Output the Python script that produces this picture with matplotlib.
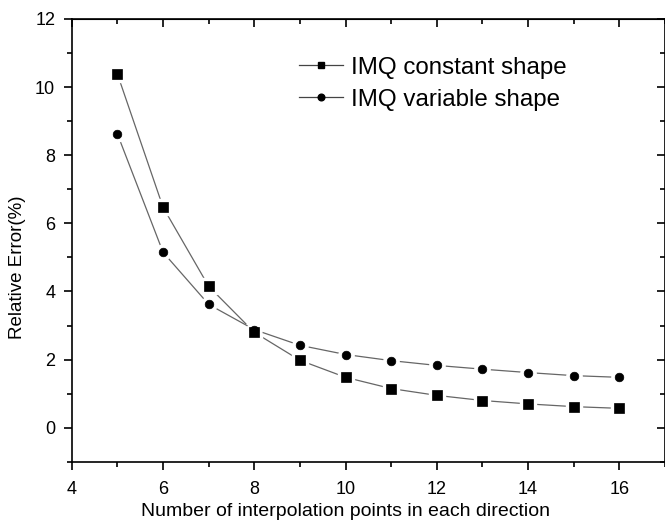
import numpy as np
import matplotlib.pyplot as plt
from matplotlib.lines import Line2D
from matplotlib.ticker import MultipleLocator

plt.rcParams['font.family'] = ['Liberation Sans', 'DejaVu Sans']

# number of interpolation points per direction
n_points = [5, 6, 7, 8, 9, 10, 11, 12, 13, 14, 15, 16]

# relative error (%) for each shape parameter strategy
err_constant = [10.38, 6.47, 4.15, 2.8, 1.98, 1.48, 1.15, 0.95, 0.8, 0.7, 0.62, 0.57]
err_variable = [8.62, 5.15, 3.62, 2.88, 2.42, 2.15, 1.97, 1.83, 1.72, 1.62, 1.53, 1.48]

series = [
    (err_constant, 's', 'IMQ constant shape'),
    (err_variable, 'o', 'IMQ variable shape'),
]

fig = plt.figure(figsize=(6.65, 5.26), dpi=100)
ax = fig.add_axes([0.108, 0.122, 0.892, 0.842])

# connecting lines, broken around each point by a white marker
for vals, mk, _ in series:
    ax.plot(n_points, vals, color='#666666', lw=0.9, marker=mk, ms=11,
            mfc='white', mec='white', zorder=2)
# black symbols on top
for vals, mk, _ in series:
    ax.plot(n_points, vals, ls='none', marker=mk, ms=6.5 if mk == 's' else 6.2,
            mfc='black', mec='black', mew=0.5, zorder=3)

ax.set_xlim(4, 17)
ax.set_ylim(-1, 12)
ax.xaxis.set_major_locator(MultipleLocator(2))
ax.xaxis.set_minor_locator(MultipleLocator(1))
ax.yaxis.set_major_locator(MultipleLocator(2))
ax.yaxis.set_minor_locator(MultipleLocator(1))

ax.tick_params(which='both', direction='out', labelsize=13, width=1.2, top=False, right=False)
ax.tick_params(which='major', length=6)
ax.tick_params(which='minor', length=3.5)
ax.tick_params(axis='x', pad=8)
ax.tick_params(axis='y', pad=6)

for side in ['top', 'right', 'left', 'bottom']:
    ax.spines[side].set_linewidth(1.2)

# inward ticks on the top and right edges
sec_x = ax.secondary_xaxis('top')
sec_x.xaxis.set_major_locator(MultipleLocator(2))
sec_x.xaxis.set_minor_locator(MultipleLocator(1))
sec_x.tick_params(which='both', direction='in', labeltop=False, width=1.2)
sec_x.tick_params(which='major', length=6)
sec_x.tick_params(which='minor', length=3.5)
sec_y = ax.secondary_yaxis('right')
sec_y.yaxis.set_major_locator(MultipleLocator(2))
sec_y.yaxis.set_minor_locator(MultipleLocator(1))
sec_y.tick_params(which='both', direction='in', labelright=False, width=1.2)
sec_y.tick_params(which='major', length=6)
sec_y.tick_params(which='minor', length=3.5)

ax.set_xlabel('Number of interpolation points in each direction', fontsize=14)
ax.set_ylabel('Relative Error(%)', fontsize=13.5)
ax.xaxis.set_label_coords(0.462, -0.093)
ax.yaxis.set_label_coords(-0.078, 0.44)

handles = [Line2D([], [], color='#444444', lw=0.9, marker=mk, ms=4.5 if mk == 's' else 4.8,
                  mfc='black', mec='black', label=lab)
           for _, mk, lab in series]
ax.legend(handles=handles, loc='upper left', bbox_to_anchor=(0.347, 0.964), frameon=False,
          fontsize=17.4, handlelength=1.8, handletextpad=0.35, labelspacing=0.42)

fig.savefig('out.png', dpi=100)
